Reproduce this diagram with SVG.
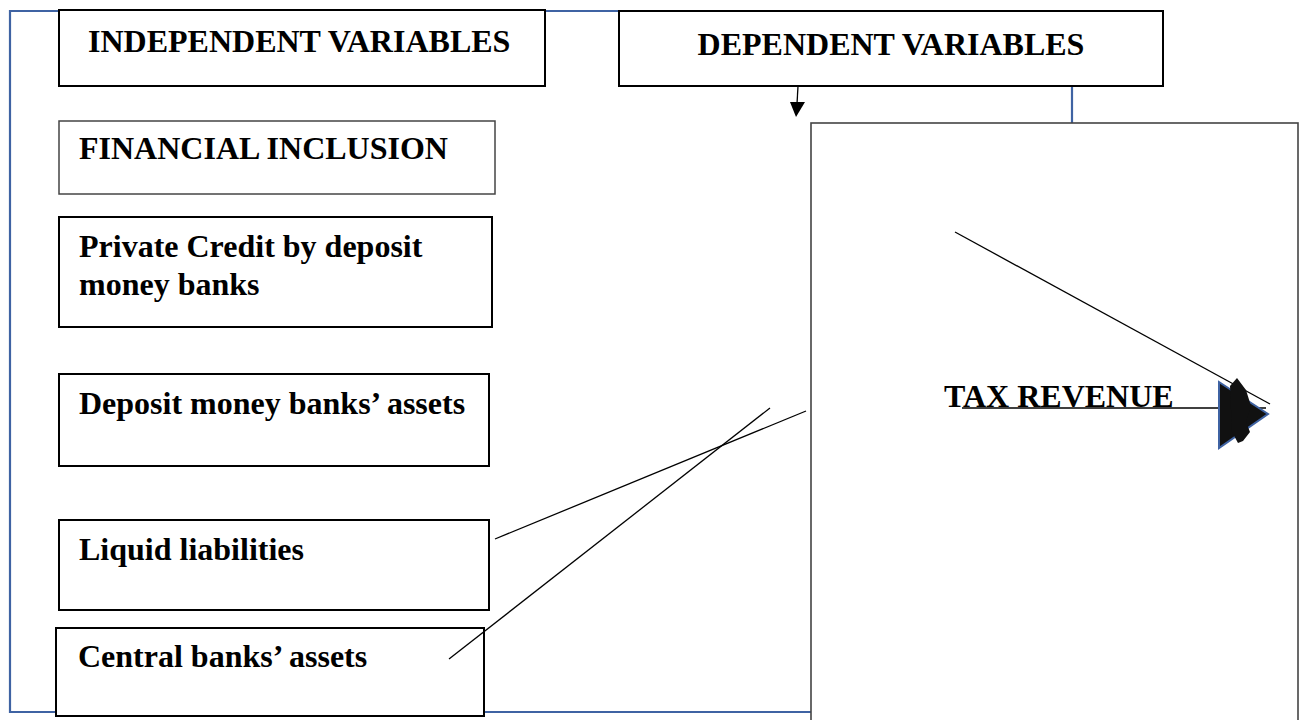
<svg xmlns="http://www.w3.org/2000/svg" width="1310" height="720" viewBox="0 0 1310 720">
<style>
.box{fill:#fff;stroke:#000;stroke-width:2}
.thin{fill:#fff;stroke:#444;stroke-width:1.5}
.t{font-family:"Liberation Serif","Times New Roman",serif;font-weight:bold;font-size:32px;fill:#000}
.ln{stroke:#000;stroke-width:1.3;fill:none}
.frame{stroke:#3f63a3;stroke-width:2.2;fill:none}
</style>
<rect width="1310" height="720" fill="#fff"/>
<g id="frame">
<polyline class="frame" points="1072,125 1072,11 10,11 10,712 812,712"/>
</g>
<g id="independent">
<rect class="box" x="59" y="10" width="486" height="76"/>
<text class="t" x="88" y="52">INDEPENDENT VARIABLES</text>
</g>
<g id="dependent">
<rect class="box" x="619" y="11" width="544" height="75"/>
<text class="t" x="891" y="55" text-anchor="middle">DEPENDENT VARIABLES</text>
</g>
<g id="financial-inclusion">
<rect class="thin" x="59" y="121" width="436" height="73"/>
<text class="t" x="79" y="159">FINANCIAL INCLUSION</text>
</g>
<g id="private-credit">
<rect class="box" x="59" y="217" width="433" height="110"/>
<text class="t" x="79" y="257">Private Credit by deposit</text>
<text class="t" x="79" y="295">money banks</text>
</g>
<g id="deposit-assets">
<rect class="box" x="59" y="374" width="430" height="92"/>
<text class="t" x="79" y="414">Deposit money banks’ assets</text>
</g>
<g id="liquid-liabilities">
<rect class="box" x="59" y="520" width="430" height="90"/>
<text class="t" x="79" y="560">Liquid liabilities</text>
</g>
<g id="central-assets">
<rect class="box" x="56" y="628" width="428" height="88"/>
<text class="t" x="78" y="667">Central banks’ assets</text>
</g>
<g id="tax-revenue">
<rect x="811" y="123" width="487" height="610" fill="#fff" stroke="#444" stroke-width="1.6"/>
<text class="t" x="944" y="407">TAX REVENUE</text>
</g>
<g id="connectors">
<line class="ln" x1="798" y1="86" x2="797" y2="104"/>
<polygon points="790,102 805,102 796,117" fill="#000"/>
<line class="ln" x1="495" y1="539" x2="806" y2="411"/>
<line class="ln" x1="449" y1="659" x2="770" y2="408"/>
<line class="ln" x1="955" y1="232" x2="1270" y2="404"/>
<line class="ln" x1="962" y1="408" x2="1266" y2="408"/>
<polygon points="1219,382 1268,414 1219,448" fill="#111" stroke="#3f63a3" stroke-width="2"/>
<polygon points="1230,386 1237,378 1246,390 1251,406 1246,422 1250,432 1243,441 1238,443 1232,432" fill="#111"/>
</g>
</svg>
